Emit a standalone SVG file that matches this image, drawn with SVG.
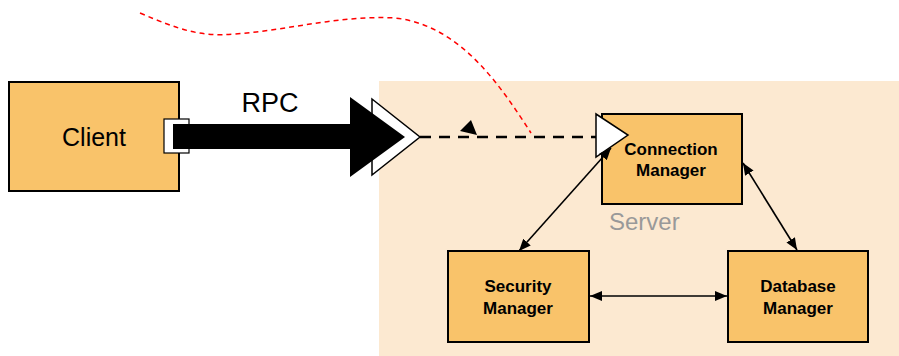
<svg xmlns="http://www.w3.org/2000/svg" width="899" height="356" viewBox="0 0 899 356">
  <style>
    .box { fill: #F9C36A; stroke: #000; stroke-width: 2; }
    .label { font-family: "Liberation Sans", Arial, sans-serif; fill: #000; text-anchor: middle; }
    .bold { font-weight: bold; font-size: 17px; }
    .link { stroke: #000; stroke-width: 1.6; fill: none; marker-start: url(#head); marker-end: url(#head); }
  </style>
  <defs>
    <marker id="head" viewBox="0 0 12 10" refX="12" refY="5" markerWidth="12" markerHeight="10" markerUnits="userSpaceOnUse" orient="auto-start-reverse">
      <path d="M0,0 L12,5 L0,10 Z" fill="#000"/>
    </marker>
  </defs>

  <!-- server area -->
  <rect x="379" y="81" width="520" height="275" fill="#FCE9D1"/>
  <text x="609" y="230" font-family="Liberation Sans, Arial, sans-serif" font-size="24" fill="#999">Server</text>

  <g id="client">
    <rect class="box" x="9" y="82" width="170" height="109" stroke-width="1.5"/>
    <text class="label" x="94" y="146" font-size="25">Client</text>
    <rect x="164" y="119" width="25" height="34" fill="#fff" stroke="#000" stroke-width="1.2"/>
  </g>

  <g id="rpc">
    <polygon points="372,99 420,137 372,175" fill="#fff" stroke="#000" stroke-width="1.5"/>
    <polygon points="173,124 350,124 350,97 405,137 350,177 350,149 173,149" fill="#000"/>
    <text class="label" x="270" y="112" font-size="27">RPC</text>
  </g>

  <g id="connection-manager">
    <rect class="box" x="602" y="114" width="140" height="90"/>
    <text class="label bold" x="671" y="155">Connection</text>
    <text class="label bold" x="671" y="176">Manager</text>
  </g>

  <g id="security-manager">
    <rect class="box" x="448" y="251" width="141" height="91"/>
    <text class="label bold" x="518" y="292">Security</text>
    <text class="label bold" x="518" y="314">Manager</text>
  </g>

  <g id="database-manager">
    <rect class="box" x="728" y="251" width="140" height="91"/>
    <text class="label bold" x="798" y="292">Database</text>
    <text class="label bold" x="798" y="314">Manager</text>
  </g>

  <g id="connectors">
    <!-- path of the call -->
    <path d="M140,13 C180,30 200,37 235,34 C290,30 340,15 395,18 C460,25 500,85 531,133" fill="none" stroke="#FF0000" stroke-width="1.5" stroke-dasharray="5,4"/>
    <line x1="420" y1="137" x2="597" y2="137" stroke="#000" stroke-width="2.5" stroke-dasharray="11,8"/>
    <polygon points="471,120 460,131 477,135" fill="#000"/>
    <polygon points="596,114 628,135 596,157" fill="#fff" stroke="#000" stroke-width="1.5"/>
    <line class="link" x1="611" y1="148" x2="519" y2="251"/>
    <line class="link" x1="743" y1="163" x2="797" y2="250"/>
    <line class="link" x1="590" y1="296" x2="727" y2="296"/>
  </g>
</svg>
